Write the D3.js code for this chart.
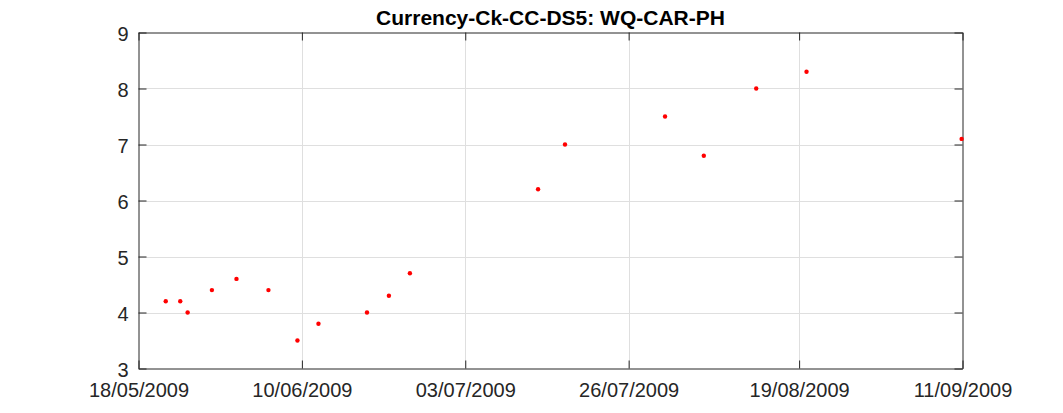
<!DOCTYPE html>
<html>
<head>
<meta charset="utf-8">
<script src="https://cdn.jsdelivr.net/npm/d3@7"></script>
<style>
  body { margin: 0; background: #fff; }
  svg { display: block; font-family: "Liberation Sans", Arial, Helvetica, sans-serif; }
</style>
</head>
<body>
<svg id="chart" width="1063" height="413"></svg>
<script>
// sample times and pH readings
var sampleTimes = ['21/05/2009 20:00', '23/05/2009 21:00', '24/05/2009 22:00', '28/05/2009 08:00',
    '31/05/2009 19:00', '05/06/2009 07:00', '09/06/2009 09:00', '12/06/2009 08:00',
    '19/06/2009 04:00', '22/06/2009 06:00', '25/06/2009 05:00', '13/07/2009 06:00',
    '17/07/2009 01:00', '31/07/2009 03:00', '05/08/2009 14:00', '12/08/2009 23:00',
    '20/08/2009 01:00', '10/09/2009 21:00'];
var phValues = [4.2, 4.2, 4.0, 4.4, 4.6, 4.4, 3.5, 3.8, 4.0, 4.3, 4.7,
    6.2, 7.0, 7.5, 6.8, 8.0, 8.3, 7.1];
var xTickLabels = ['18/05/2009', '10/06/2009', '03/07/2009', '26/07/2009', '19/08/2009', '11/09/2009'];
var yTicks = [3, 4, 5, 6, 7, 8, 9];
var chartTitle = 'Currency-Ck-CC-DS5: WQ-CAR-PH';

var parseDate = d3.timeParse('%d/%m/%Y');
var parseTime = d3.timeParse('%d/%m/%Y %H:%M');
var fmtDate = d3.timeFormat('%d/%m/%Y');

var plotLeft = 138.5, plotRight = 962.5, plotTop = 32.5, plotBottom = 368.5;
var tickLen = 8;
var axisColor = '#262626';

var svg = d3.select('#chart');

var x = d3.scaleTime()
    .domain([parseDate(xTickLabels[0]), parseDate(xTickLabels[xTickLabels.length - 1])])
    .range([plotLeft, plotRight]);
var y = d3.scaleLinear()
    .domain([yTicks[0], yTicks[yTicks.length - 1]])
    .range([plotBottom, plotTop]);

var xTicks = xTickLabels.map(parseDate);

// grid
var grid = svg.append('g').attr('stroke', '#dfdfdf').attr('stroke-width', 1);
grid.selectAll('line.gx')
    .data(xTicks.slice(1, -1))
    .enter().append('line')
    .attr('x1', function(d) { return Math.round(x(d)) + 0.5; })
    .attr('x2', function(d) { return Math.round(x(d)) + 0.5; })
    .attr('y1', plotTop).attr('y2', plotBottom);
grid.selectAll('line.gy')
    .data(yTicks.slice(1, -1))
    .enter().append('line')
    .attr('y1', function(d) { return Math.round(y(d)) + 0.5; })
    .attr('y2', function(d) { return Math.round(y(d)) + 0.5; })
    .attr('x1', plotLeft).attr('x2', plotRight);

// axes with mirrored inward ticks
var xAxisB = d3.axisBottom(x).tickValues(xTicks).tickFormat(fmtDate)
    .tickSizeInner(-tickLen).tickSizeOuter(0).tickPadding(14);
var xAxisT = d3.axisTop(x).tickValues(xTicks).tickFormat('')
    .tickSizeInner(-tickLen).tickSizeOuter(0);
var yAxisL = d3.axisLeft(y).tickValues(yTicks).tickFormat(d3.format('d'))
    .tickSizeInner(-tickLen).tickSizeOuter(0).tickPadding(10);
var yAxisR = d3.axisRight(y).tickValues(yTicks).tickFormat('')
    .tickSizeInner(-tickLen).tickSizeOuter(0);

function styleAxis(g) {
    g.attr('font-family', null).attr('font-size', null);
    g.select('.domain').attr('stroke', axisColor);
    g.selectAll('.tick line').attr('stroke', axisColor);
    g.selectAll('.tick text').attr('fill', axisColor).style('font-size', '20px');
}

svg.append('g').attr('transform', 'translate(0,' + plotBottom + ')').call(xAxisB).call(styleAxis);
svg.append('g').attr('transform', 'translate(0,' + plotTop + ')').call(xAxisT).call(styleAxis);
svg.append('g').attr('transform', 'translate(' + plotLeft + ',0)').call(yAxisL).call(styleAxis)
    .selectAll('.tick text').attr('dy', '0.38em');
svg.append('g').attr('transform', 'translate(' + plotRight + ',0)').call(yAxisR).call(styleAxis);

// points
svg.append('g').selectAll('circle')
    .data(sampleTimes.map(function(d, i) { return { date: parseTime(d), value: phValues[i] }; }))
    .enter().append('circle')
    .attr('cx', function(d) { return x(d.date); })
    .attr('cy', function(d) { return y(d.value); })
    .attr('r', 2.2)
    .attr('fill', '#ff0000');

// title
svg.append('text')
    .attr('x', (plotLeft + plotRight) / 2)
    .attr('y', 25)
    .attr('text-anchor', 'middle')
    .style('font-size', '21px')
    .style('font-weight', 'bold')
    .attr('fill', '#000')
    .text(chartTitle);
</script>
</body>
</html>
